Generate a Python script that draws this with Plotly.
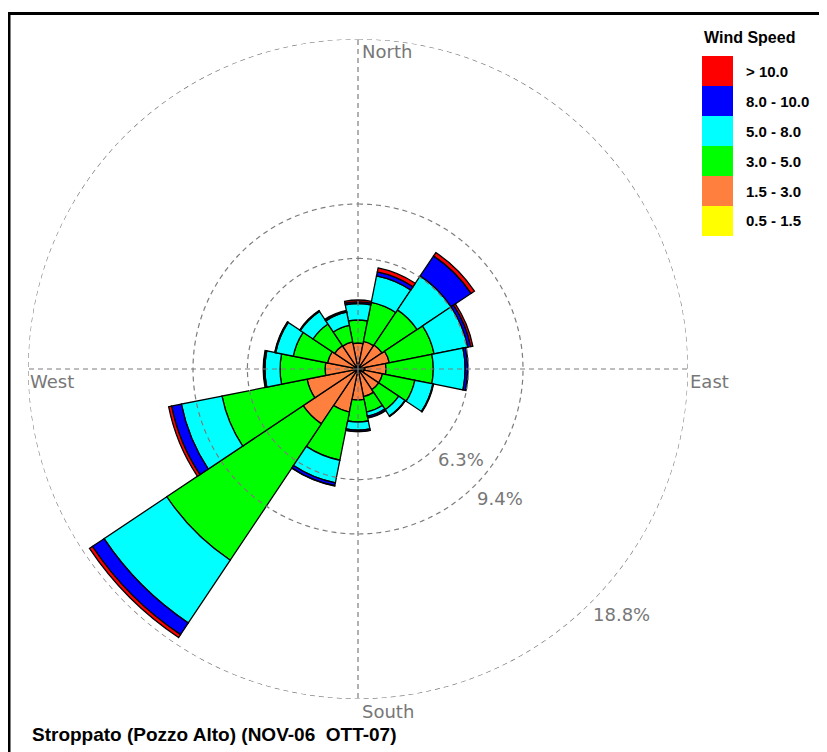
import numpy as np
import plotly.graph_objects as go

# ---------------- data ----------------
directions = ["N", "NNE", "NE", "ENE", "E", "ESE", "SE", "SSE",
              "S", "SSW", "SW", "WSW", "W", "WNW", "NW", "NNW"]
dir_angles = [0, 22.5, 45, 67.5, 90, 112.5, 135, 157.5,
              180, 202.5, 225, 247.5, 270, 292.5, 315, 337.5]

speed_bins = ["0.5 - 1.5", "1.5 - 3.0", "3.0 - 5.0", "5.0 - 8.0", "8.0 - 10.0", "> 10.0"]
bin_colors = ["#FFFF00", "#FF7F3F", "#00FF00", "#00FFFF", "#0000FF", "#FF0000"]

# frequency (%) per direction for each speed class
freq_05_15 = [0.15, 0.15, 0.15, 0.15, 0.40, 0.35, 0.15, 0.15,
              0.15, 0.15, 0.15, 0.15, 0.15, 0.15, 0.15, 0.15]
freq_15_30 = [1.33, 1.45, 1.50, 1.67, 1.20, 1.07, 1.27, 1.45,
              1.62, 2.35, 3.61, 2.81, 1.73, 1.62, 1.45, 1.42]
freq_30_50 = [1.31, 2.27, 2.40, 2.60, 2.69, 1.88, 1.37, 0.90,
              1.25, 2.80, 9.34, 4.94, 2.56, 1.99, 1.48, 0.97]
freq_50_80 = [0.94, 1.54, 2.33, 1.96, 1.81, 1.05, 0.43, 0.24,
              0.46, 1.31, 4.30, 2.36, 0.86, 1.02, 0.87, 0.76]
freq_80_100 = [0.09, 0.23, 1.37, 0.17, 0.15, 0.02, 0.02, 0.09,
               0.08, 0.17, 0.80, 0.57, 0.06, 0.04, 0.03, 0.06]
freq_gt_100 = [0.11, 0.23, 0.23, 0.12, 0.02, 0.02, 0.01, 0.02,
               0.01, 0.02, 0.20, 0.17, 0.04, 0.02, 0.02, 0.04]
bin_values = [freq_05_15, freq_15_30, freq_30_50, freq_50_80, freq_80_100, freq_gt_100]

radial_ticks = [6.3, 9.4, 18.8]
radial_tick_labels = ["6.3%", "9.4%", "18.8%"]
r_max = 18.8
compass_angles = [0, 90, 180, 270]
compass_labels = ["North", "East", "South", "West"]
title_text = "Stroppato (Pozzo Alto) (NOV-06\u00a0 OTT-07)"
legend_title = "Wind Speed"

# ---------------- geometry ----------------
W, H = 827, 752
OFF = 8  # page body margin: positions below are page pixels minus this offset
CX, CY, R = 358 - OFF, 369 - OFF, 330
GRID_COLOR = "#7c7c7c"
GRID_DASH = "5px,4px"


def px(x):
    return x / W


def py(y):
    return 1 - y / H


fig = go.Figure()

for name, vals, col in zip(speed_bins, bin_values, bin_colors):
    fig.add_trace(go.Barpolar(
        r=vals, theta=dir_angles, width=[22.5] * len(dir_angles),
        name=name, marker_color=col,
        marker_line_color="black", marker_line_width=1.3,
        showlegend=False, hoverinfo="skip"))

# dashed grid drawn over the bars
circ_theta = np.linspace(0, 360, 721)
for t in radial_ticks:
    fig.add_trace(go.Scatterpolar(
        r=[t] * len(circ_theta), theta=circ_theta, mode="lines",
        line=dict(color=GRID_COLOR, width=1.2, dash=GRID_DASH),
        showlegend=False, hoverinfo="skip", cliponaxis=False))
for a in compass_angles:
    fig.add_trace(go.Scatterpolar(
        r=[0, r_max], theta=[a, a], mode="lines",
        line=dict(color=GRID_COLOR, width=1.2, dash=GRID_DASH),
        showlegend=False, hoverinfo="skip", cliponaxis=False))

annotations = []
shapes = []
LABEL_FONT = dict(family="DejaVu Sans", size=18, color="#777777")

# radial tick labels at SE bearing
for t, lab in zip(radial_ticks, radial_tick_labels):
    rp = t / r_max * R
    x = CX + rp * np.sin(np.radians(135))
    y = CY - rp * np.cos(np.radians(135))
    annotations.append(dict(x=px(x), y=py(y), xref="paper", yref="paper",
                            text=lab, showarrow=False, xanchor="left", yanchor="top",
                            font=LABEL_FONT))

# compass labels at axis ends
for a, lab in zip(compass_angles, compass_labels):
    x = CX + R * np.sin(np.radians(a))
    y = CY - R * np.cos(np.radians(a))
    xs = 2 if a in (0, 180) else 0
    annotations.append(dict(x=px(x), y=py(y), xref="paper", yref="paper",
                            text=lab, showarrow=False, xanchor="left", yanchor="top",
                            xshift=xs, font=LABEL_FONT))

# legend (top = highest class)
annotations.append(dict(x=px(702 - OFF), y=py(38 - OFF), xref="paper", yref="paper",
                        text="<b>" + legend_title + "</b>", showarrow=False,
                        xanchor="left", yanchor="middle",
                        font=dict(family="Arial", size=16, color="black")))
for i, (name, col) in enumerate(zip(speed_bins[::-1], bin_colors[::-1])):
    y0 = 56 - OFF + i * 30
    shapes.append(dict(type="rect", xref="paper", yref="paper",
                       x0=px(702 - OFF), x1=px(733 - OFF), y0=py(y0), y1=py(y0 + 30),
                       fillcolor=col, line=dict(width=0)))
    annotations.append(dict(x=px(744 - OFF), y=py(y0 + 15), xref="paper", yref="paper",
                            text="<b>" + name + "</b>", showarrow=False,
                            xanchor="left", yanchor="middle",
                            font=dict(family="Arial", size=15, color="black")))

# bottom title
annotations.append(dict(x=px(30 - OFF), y=py(734 - OFF), xref="paper", yref="paper",
                        text="<b>" + title_text + "</b>", showarrow=False,
                        xanchor="left", yanchor="middle",
                        font=dict(family="Arial", size=19, color="black")))

# frame (top and left edges)
shapes.append(dict(type="line", xref="paper", yref="paper",
                   x0=px(8 - OFF), x1=1, y0=py(13.5 - OFF), y1=py(13.5 - OFF),
                   line=dict(color="black", width=3)))
shapes.append(dict(type="line", xref="paper", yref="paper",
                   x0=px(9 - OFF), x1=px(9 - OFF), y0=py(12 - OFF), y1=0,
                   line=dict(color="black", width=3)))

fig.update_layout(
    width=W, height=H,
    margin=dict(l=0, r=0, t=0, b=0),
    paper_bgcolor="white",
    showlegend=False,
    polar=dict(
        domain=dict(x=[px(CX - R), px(CX + R)], y=[py(CY + R), py(CY - R)]),
        bgcolor="white",
        barmode="stack",
        bargap=0,
        radialaxis=dict(range=[0, r_max], showgrid=False, showline=False,
                        showticklabels=False, ticks=""),
        angularaxis=dict(direction="clockwise", rotation=90, showgrid=False,
                         showline=False, showticklabels=False, ticks=""),
    ),
    annotations=annotations,
    shapes=shapes,
)

fig.write_html("out.html")
